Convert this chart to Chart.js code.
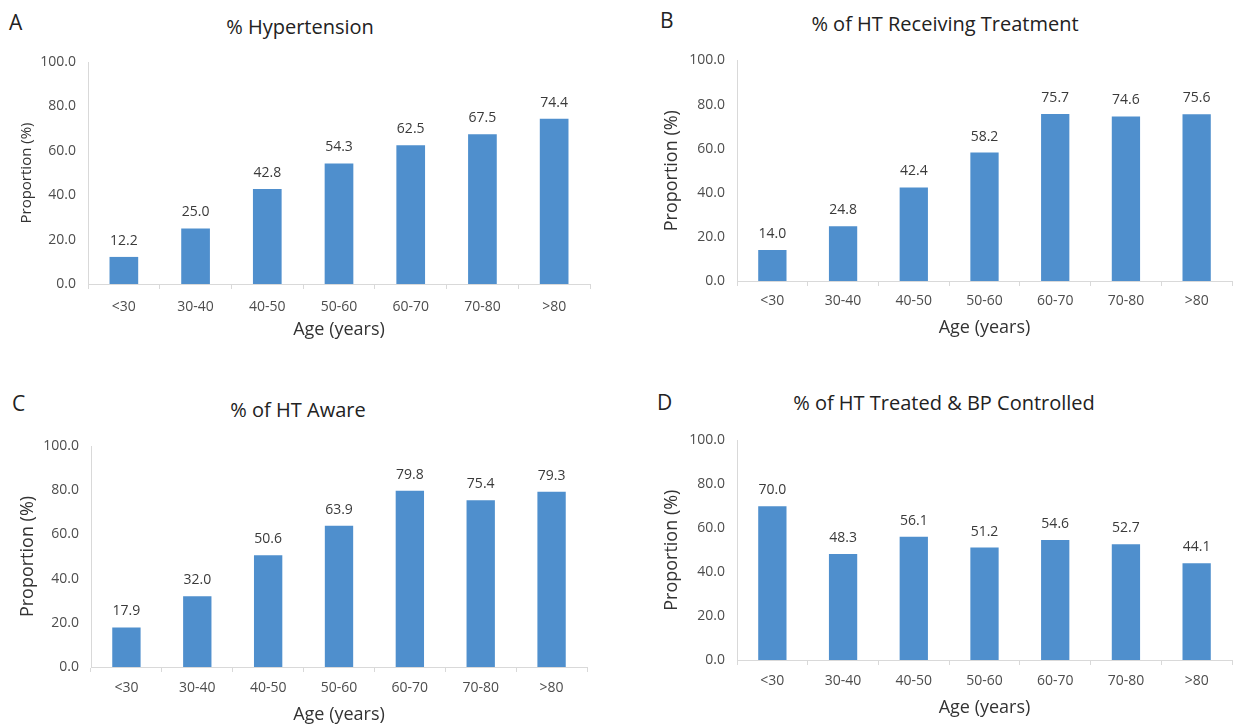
<!DOCTYPE html>
<html>
<head>
<meta charset="utf-8">
<script src="https://cdn.jsdelivr.net/npm/chart.js@4.4.1/dist/chart.umd.min.js"></script>
<style>
  body { margin: 0; background: #fff; width: 1233px; height: 726px; position: relative; overflow: hidden; font-family: "Open Sans", sans-serif; }
  canvas { position: absolute; }
  .letter { position: absolute; font-size: 21px; color: #222; line-height: 1; }
  .title { position: absolute; font-size: 20px; color: #222; line-height: 1; transform: translate(-50%, -50%); white-space: nowrap; }
</style>
</head>
<body>
<div class="letter" style="left:9px;top:12px">A</div>
<div class="letter" style="left:660px;top:10px">B</div>
<div class="letter" style="left:12px;top:393px">C</div>
<div class="letter" style="left:657px;top:392px">D</div>
<div class="title" style="left:300px;top:27px">% Hypertension</div>
<div class="title" style="left:945px;top:24px">% of HT Receiving Treatment</div>
<div class="title" style="left:298px;top:410px">% of HT Aware</div>
<div class="title" style="left:944px;top:403px">% of HT Treated &amp; BP Controlled</div>
<canvas id="chartA" width="600" height="320" style="left:0px;top:40px"></canvas>
<canvas id="chartB" width="593" height="320" style="left:640px;top:40px"></canvas>
<canvas id="chartC" width="600" height="306" style="left:0px;top:420px"></canvas>
<canvas id="chartD" width="593" height="306" style="left:640px;top:420px"></canvas>
<script>
// Data
const ageGroups = ["<30", "30-40", "40-50", "50-60", "60-70", "70-80", ">80"];
const hypertension = [12.2, 25.0, 42.8, 54.3, 62.5, 67.5, 74.4];
const receivingTreatment = [14.0, 24.8, 42.4, 58.2, 75.7, 74.6, 75.6];
const aware = [17.9, 32.0, 50.6, 63.9, 79.8, 75.4, 79.3];
const treatedControlled = [70.0, 48.3, 56.1, 51.2, 54.6, 52.7, 44.1];
const yTicks = [0, 20, 40, 60, 80, 100];
const xTitle = "Age (years)";
const yTitle = "Proportion (%)";

const FONT = "'Open Sans', sans-serif";
const BAR_COLOR = "#4f8fcd";
const AXIS_COLOR = "#d9d9d9";

// Value labels above each bar
const valueLabels = {
  id: "valueLabels",
  afterDatasetsDraw(chart) {
    const ctx = chart.ctx;
    const meta = chart.getDatasetMeta(0);
    const values = chart.data.datasets[0].data;
    ctx.save();
    ctx.font = "14px " + FONT;
    ctx.fillStyle = "#3a3a3a";
    ctx.textAlign = "center";
    ctx.textBaseline = "middle";
    meta.data.forEach((bar, i) => {
      ctx.fillText(values[i].toFixed(1), bar.x, bar.y - 16);
    });
    ctx.restore();
  }
};

// Panel layout in page pixels (canvas box and target plot area)
const panels = [
  { id: "chartA", values: hypertension, left: 0, top: 40, width: 600, height: 320,
    axisX: 88, plotRight: 590, plotTop: 62, plotBottom: 284, yTitleX: 27, xTitleY: 330, yTitleSize: 15, tickPad: 10 },
  { id: "chartB", values: receivingTreatment, left: 640, top: 40, width: 593, height: 320,
    axisX: 737, plotRight: 1232, plotTop: 57, plotBottom: 281, yTitleX: 672, xTitleY: 328, yTitleSize: 18, tickPad: 7 },
  { id: "chartC", values: aware, left: 0, top: 420, width: 600, height: 306,
    axisX: 91, plotRight: 587, plotTop: 446, plotBottom: 667, yTitleX: 28, xTitleY: 715, yTitleSize: 18, tickPad: 8 },
  { id: "chartD", values: treatedControlled, left: 640, top: 420, width: 593, height: 306,
    axisX: 737, plotRight: 1232, plotTop: 438, plotBottom: 660, yTitleX: 672, xTitleY: 708, yTitleSize: 18, tickPad: 8 }
];

panels.forEach(p => {
  const xTitleSize = 18;
  const yWidth = p.axisX - p.left;
  const xHeight = p.top + p.height - p.plotBottom;
  const yTitlePad = p.yTitleX - p.left - (p.yTitleSize * 1.2) / 2;
  const xTitlePad = p.top + p.height - p.xTitleY - (xTitleSize * 1.2) / 2;

  new Chart(document.getElementById(p.id), {
    type: "bar",
    data: {
      labels: ageGroups,
      datasets: [{
        data: p.values,
        backgroundColor: BAR_COLOR,
        categoryPercentage: 1.0,
        barPercentage: 0.4
      }]
    },
    options: {
      responsive: false,
      animation: false,
      devicePixelRatio: 1,
      layout: { padding: { top: p.plotTop - p.top, right: p.left + p.width - p.plotRight, left: 0, bottom: 0 } },
      plugins: { legend: { display: false }, tooltip: { enabled: false } },
      scales: {
        x: {
          grid: { display: true, drawOnChartArea: false, drawTicks: true, tickLength: 5, color: AXIS_COLOR, offset: true },
          border: { display: true, color: AXIS_COLOR, width: 1 },
          ticks: { color: "#4d4d4d", font: { family: FONT, size: 14 }, padding: p.tickPad, maxRotation: 0 },
          title: { display: true, text: xTitle, color: "#333", font: { family: FONT, size: xTitleSize },
                   padding: { top: 0, bottom: xTitlePad } },
          afterFit: s => { s.height = xHeight; }
        },
        y: {
          min: 0,
          max: 100,
          afterBuildTicks: s => { s.ticks = yTicks.map(v => ({ value: v })); },
          grid: { display: false, drawTicks: false },
          border: { display: true, color: AXIS_COLOR, width: 1 },
          ticks: { color: "#4d4d4d", font: { family: FONT, size: 14 }, padding: 12,
                   callback: v => Number(v).toFixed(1) },
          title: { display: true, text: yTitle, color: "#333", font: { family: FONT, size: p.yTitleSize },
                   padding: { top: yTitlePad, bottom: 0 } },
          afterFit: s => { s.width = yWidth; }
        }
      }
    },
    plugins: [valueLabels]
  });
});
</script>
</body>
</html>
